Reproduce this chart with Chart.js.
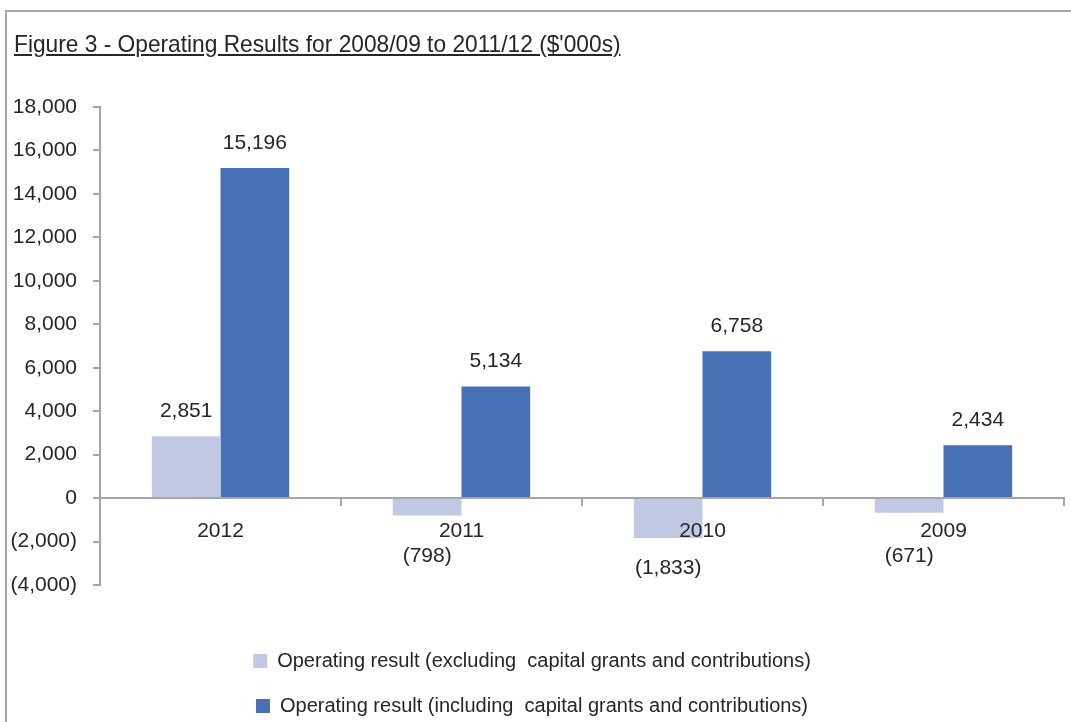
<!DOCTYPE html>
<html>
<head>
<meta charset="utf-8">
<script src="https://cdn.jsdelivr.net/npm/chart.js@4/dist/chart.umd.min.js"></script>
<style>
    html, body { margin: 0; padding: 0; background: #fff; overflow: hidden; width: 1071px; height: 722px; }
    #frame { position: absolute; left: 5px; top: 10px; width: 1100px; height: 800px; border: 2px solid #a6a6a6; pointer-events: none; }
    #title { position: absolute; left: 14px; top: 32px; font: 24px 'Liberation Sans', Arial, sans-serif; line-height: 24px; color: #262626; text-decoration: underline; white-space: nowrap; transform: scaleX(0.947); transform-origin: 0 0; }
    #results { position: absolute; left: 0; top: 0; }
</style>
</head>
<body>
<canvas id="results" width="1071" height="728"></canvas>
<div id="title">Figure 3 - Operating Results for 2008/09 to 2011/12 ($'000s)</div>
<div id="frame"></div>
<script>
// Operating results, $'000s
const years = ['2012', '2011', '2010', '2009'];
const excludingGrants = [2851, -798, -1833, -671];
const includingGrants = [15196, 5134, 6758, 2434];
const seriesNames = [
    'Operating result (excluding  capital grants and contributions)',
    'Operating result (including  capital grants and contributions)'
];
const yMin = -4000;
const yMax = 18000;
const yStep = 2000;

const FONT = "'Liberation Sans', Arial, sans-serif";
const TEXT = '#262626';
const AXIS = '#a6a6a6';

// 15196 -> "15,196", -1833 -> "(1,833)"
function formatAccounting(v) {
    const s = Math.abs(v).toLocaleString('en-US');
    return v < 0 ? '(' + s + ')' : s;
}

// Value labels: above positive bars, below the year labels for negative ones
const barValueLabels = {
    id: 'barValueLabels',
    afterDatasetsDraw(chart) {
        const ctx = chart.ctx;
        const zeroY = chart.scales.y.getPixelForValue(0);
        ctx.save();
        ctx.font = '21px ' + FONT;
        ctx.fillStyle = TEXT;
        ctx.textAlign = 'center';
        ctx.textBaseline = 'middle';
        chart.data.datasets.forEach((ds, i) => {
            chart.getDatasetMeta(i).data.forEach((bar, j) => {
                const v = ds.data[j];
                const y = v >= 0 ? bar.y - 25 : Math.max(bar.y + 30, zeroY + 58);
                ctx.fillText(formatAccounting(v), bar.x, y);
            });
        });
        ctx.restore();
    }
};

new Chart(document.getElementById('results'), {
    type: 'bar',
    data: {
        labels: years,
        datasets: [
            { label: seriesNames[0], data: excludingGrants, backgroundColor: '#c1c8e4' },
            { label: seriesNames[1], data: includingGrants, backgroundColor: '#4771b6' }
        ]
    },
    options: {
        responsive: false,
        animation: false,
        devicePixelRatio: 1,
        layout: { padding: { top: 107, right: 7, bottom: 2, left: 0 } },
        datasets: { bar: { categoryPercentage: 0.57, barPercentage: 1 } },
        scales: {
            x: {
                position: { y: 0 },
                grid: { offset: true, drawOnChartArea: false, drawTicks: true, tickLength: 7, color: AXIS, lineWidth: 2 },
                border: { color: AXIS, width: 2 },
                // z: 1 so the year labels sit on top of the negative bars
                ticks: { color: TEXT, font: { family: FONT, size: 21 }, padding: 14, z: 1 }
            },
            y: {
                min: yMin,
                max: yMax,
                afterFit(scale) { scale.width = 100; },
                grid: { drawOnChartArea: false, drawTicks: true, tickLength: 7, color: AXIS, lineWidth: 2 },
                border: { color: AXIS, width: 2 },
                ticks: {
                    stepSize: yStep,
                    color: TEXT,
                    font: { family: FONT, size: 21 },
                    padding: 16,
                    callback: v => formatAccounting(v)
                }
            }
        },
        plugins: {
            tooltip: { enabled: false },
            legend: {
                position: 'bottom',
                title: { display: true, text: '', font: { size: 1, lineHeight: 1 }, padding: { top: 40, bottom: 0 } },
                labels: {
                    color: TEXT,
                    font: { family: FONT, size: 20 },
                    boxWidth: 14,
                    boxHeight: 14,
                    padding: 25
                }
            }
        }
    },
    plugins: [barValueLabels]
});
</script>
</body>
</html>
